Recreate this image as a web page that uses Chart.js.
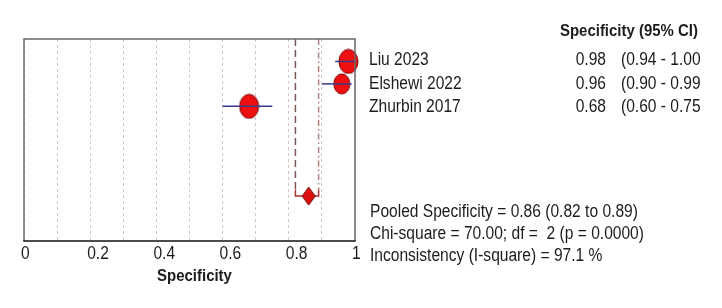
<!DOCTYPE html>
<html>
<head>
<meta charset="utf-8">
<script src="https://cdn.jsdelivr.net/npm/chart.js@4.4.1/dist/chart.umd.min.js"></script>
<style>
    html, body { margin: 0; padding: 0; background: #fff; }
    #wrap { width: 722px; height: 308px; }
</style>
</head>
<body>
<div id="wrap"><canvas id="chart" width="722" height="308"></canvas></div>
<script>
// data
const studies = ['Liu 2023', 'Elshewi 2022', 'Zhurbin 2017'];
const specificity = [0.98, 0.96, 0.68];
const lowerCI = [0.94, 0.90, 0.60];
const upperCI = [1.00, 0.99, 0.75];
const pooledSpec = 0.86;
const pooledLower = 0.82;
const pooledUpper = 0.89;
const statLines = [
    'Pooled Specificity = 0.86 (0.82 to 0.89)',
    'Chi-square = 70.00; df =  2 (p = 0.0000)',
    'Inconsistency (I-square) = 97.1 %'
];
const headerText = 'Specificity (95% CI)';
const axisTitle = 'Specificity';

const FONT = "'Liberation Sans', Arial, sans-serif";
// the reference text is a narrow Arial, so squeeze it horizontally
const SQUEEZE = 0.865;
const TEXT_COLOR = '#1c1c1c';
const POOLED_ROW = 7;
const MARK_FILL = '#ee1010';
const MARK_EDGE = '#7a0000';

function makeEllipse(w, h) {
    const c = document.createElement('canvas');
    c.width = w + 2;
    c.height = h + 2;
    const ctx = c.getContext('2d');
    ctx.beginPath();
    ctx.ellipse(c.width / 2, c.height / 2, w / 2, h / 2, 0, 0, Math.PI * 2);
    ctx.fillStyle = MARK_FILL;
    ctx.fill();
    ctx.lineWidth = 1;
    ctx.strokeStyle = MARK_EDGE;
    ctx.stroke();
    return c;
}

function makeDiamond(w, h) {
    const c = document.createElement('canvas');
    c.width = w + 2;
    c.height = h + 2;
    const ctx = c.getContext('2d');
    const cx = c.width / 2, cy = c.height / 2;
    ctx.beginPath();
    ctx.moveTo(cx, cy - h / 2);
    ctx.lineTo(cx + w / 2, cy);
    ctx.lineTo(cx, cy + h / 2);
    ctx.lineTo(cx - w / 2, cy);
    ctx.closePath();
    ctx.fillStyle = '#dd0e0e';
    ctx.fill();
    ctx.lineWidth = 1;
    ctx.strokeStyle = MARK_EDGE;
    ctx.stroke();
    return c;
}

function drawSqueezed(ctx, text, x, y, align) {
    ctx.save();
    ctx.translate(x, y);
    ctx.scale(SQUEEZE, 1);
    ctx.textAlign = align;
    ctx.fillText(text, 0, 0);
    ctx.restore();
}

function tickText(v) {
    const k = Math.round(v * 10);
    if (k % 2 !== 0) {
        return '';
    }
    return k === 0 ? '0' : k === 10 ? '1' : (k / 10).toFixed(1);
}

const markerShapes = [makeEllipse(19, 24), makeEllipse(16, 20), makeEllipse(19, 24)];

// CI lines, one dataset per study
const ciDatasets = studies.map((name, i) => ({
    label: name + ' CI',
    data: [{ x: lowerCI[i], y: i + 1 }, { x: upperCI[i], y: i + 1 }],
    showLine: true,
    borderColor: '#3a3a8a',
    borderWidth: 1.5,
    pointRadius: 0,
    clip: false
}));

const datasets = [
    ...ciDatasets,
    {
        label: 'studies',
        data: specificity.map((v, i) => ({ x: v, y: i + 1 })),
        pointStyle: markerShapes,
        pointRadius: 10,
        clip: false
    },
    {
        label: 'pooled',
        data: [{ x: pooledSpec, y: POOLED_ROW }],
        pointStyle: makeDiamond(13, 18),
        pointRadius: 9,
        clip: false
    },
    {
        label: 'pooled bracket',
        data: [
            { x: pooledLower, y: POOLED_ROW - 0.3 },
            { x: pooledLower, y: POOLED_ROW },
            { x: pooledUpper, y: POOLED_ROW },
            { x: pooledUpper, y: POOLED_ROW - 0.3 }
        ],
        showLine: true,
        borderColor: '#a83030',
        borderWidth: 1.5,
        pointRadius: 0
    },
    {
        label: 'pooled lower',
        data: [{ x: pooledLower, y: 0 }, { x: pooledLower, y: POOLED_ROW - 0.3 }],
        showLine: true,
        borderColor: '#7d5555',
        borderWidth: 1.5,
        borderDash: [7, 4],
        pointRadius: 0
    },
    {
        label: 'pooled upper',
        data: [{ x: pooledUpper, y: 0 }, { x: pooledUpper, y: POOLED_ROW - 0.3 }],
        showLine: true,
        borderColor: '#b08080',
        borderWidth: 1.5,
        borderDash: [6, 3, 1.5, 3],
        pointRadius: 0
    }
];

const framePlugin = {
    id: 'frame',
    afterDatasetsDraw(chart) {
        const { ctx, chartArea: a } = chart;
        ctx.save();
        ctx.lineWidth = 1.5;
        ctx.strokeStyle = '#6a6a6a';
        ctx.beginPath();
        ctx.moveTo(a.left, a.bottom);
        ctx.lineTo(a.left, a.top);
        ctx.lineTo(a.right, a.top);
        ctx.lineTo(a.right, a.bottom);
        ctx.stroke();
        ctx.strokeStyle = '#111';
        ctx.beginPath();
        ctx.moveTo(a.left - 0.75, a.bottom);
        ctx.lineTo(a.right + 0.75, a.bottom);
        ctx.stroke();
        ctx.restore();
    }
};

// x tick labels and title, placed from the x scale but drawn narrow
const axisTextPlugin = {
    id: 'axisText',
    afterDraw(chart) {
        const { ctx, chartArea: a } = chart;
        const xs = chart.scales.x;
        ctx.save();
        ctx.fillStyle = TEXT_COLOR;
        ctx.textBaseline = 'alphabetic';
        ctx.font = '18px ' + FONT;
        xs.ticks.forEach(t => {
            const label = tickText(t.value);
            if (label) {
                drawSqueezed(ctx, label, xs.getPixelForValue(t.value) - 3, 259, 'left');
            }
        });
        ctx.font = 'bold 17.3px ' + FONT;
        drawSqueezed(ctx, axisTitle, (a.left + a.right) / 2 + 5, 281, 'center');
        ctx.restore();
    }
};

const sideTextPlugin = {
    id: 'sideText',
    afterDraw(chart) {
        const ctx = chart.ctx;
        ctx.save();
        ctx.beginPath();
        ctx.rect(0, 0, 700, 308);
        ctx.clip();
        ctx.fillStyle = TEXT_COLOR;
        ctx.textBaseline = 'alphabetic';

        ctx.font = 'bold 17.3px ' + FONT;
        drawSqueezed(ctx, headerText, 560, 36, 'left');

        ctx.font = '18px ' + FONT;
        studies.forEach((name, i) => {
            const y = 65 + i * 23.7;
            drawSqueezed(ctx, name, 369, y, 'left');
            drawSqueezed(ctx, specificity[i].toFixed(2), 606, y, 'right');
            drawSqueezed(ctx, '(' + lowerCI[i].toFixed(2) + ' - ' + upperCI[i].toFixed(2) + ')', 621, y, 'left');
        });

        statLines.forEach((line, i) => {
            drawSqueezed(ctx, line, 370, 217 + i * 22, 'left');
        });
        ctx.restore();
    }
};

new Chart(document.getElementById('chart'), {
    type: 'scatter',
    data: { datasets },
    options: {
        responsive: false,
        animation: false,
        events: [],
        layout: { padding: { left: 24, right: 367, top: 39, bottom: 0 } },
        plugins: {
            legend: { display: false },
            tooltip: { enabled: false }
        },
        scales: {
            x: {
                type: 'linear',
                min: 0,
                max: 1,
                afterFit(scale) {
                    scale.height = 67;
                },
                grid: {
                    color: '#d2c6c6',
                    lineWidth: 1,
                    drawTicks: false
                },
                border: { display: false, dash: [3, 3] },
                ticks: {
                    stepSize: 0.1,
                    autoSkip: false,
                    display: false
                }
            },
            y: {
                type: 'linear',
                display: false,
                min: 0,
                max: 9,
                reverse: true
            }
        }
    },
    plugins: [framePlugin, axisTextPlugin, sideTextPlugin]
});
</script>
</body>
</html>
